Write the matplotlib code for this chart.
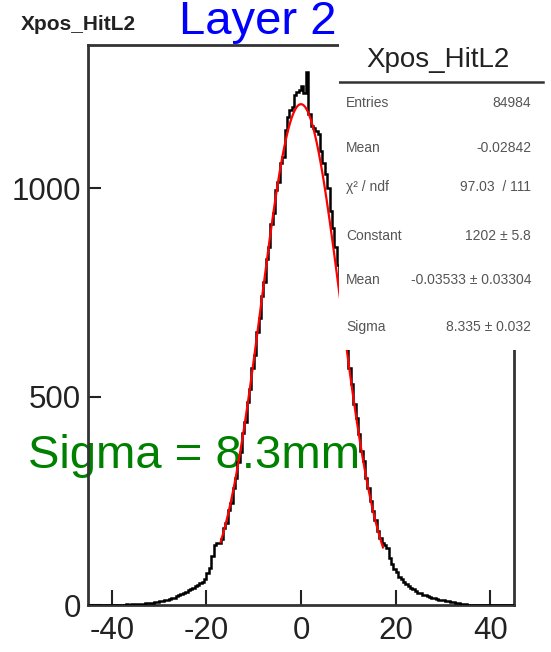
#!/usr/bin/env python3
"""Xpos_HitL2 hit position histogram (layer 2) with a gaussian fit."""

import matplotlib

matplotlib.use("Agg")
import matplotlib.pyplot as plt
import numpy as np

plt.rcParams["font.family"] = ["Liberation Sans", "DejaVu Sans"]
plt.rcParams["axes.unicode_minus"] = False

# histogram: 0.5 mm bins from -45 to 45, contents
bin_edges = np.linspace(-45, 45, 181)
counts = (
    # -45 .. -20
    [0, 0, 0, 0, 0, 0, 0, 1, 0, 0,
     1, 0, 1, 1, 1, 1, 2, 1, 2, 2,
     2, 2, 3, 3, 4, 4, 5, 6, 7, 8,
     9, 10, 11, 13, 14, 16, 18, 21, 24, 26,
     28, 31, 35, 39, 42, 45, 49, 52, 56, 62]
    # -20 .. -17
    + [76, 90, 118, 144, 148, 150]
    # -17 .. 0
    + [158, 184, 198, 228, 246, 282, 304, 344, 368, 412,
       440, 488, 518, 570, 600, 655, 688, 742, 775, 830,
       860, 915, 940, 995, 1015, 1062, 1075, 1140, 1170, 1188,
       1196, 1225, 1232, 1236]
    # 0 .. 17
    + [1245, 1228, 1280, 1178, 1150, 1145, 1138, 1130, 1090, 1060,
       1035, 1000, 945, 905, 860, 815, 760, 720, 668, 620,
       570, 530, 482, 448, 410, 370, 345, 306, 280, 250,
       226, 204, 178, 162]
    # 17 .. 35
    + [150, 144, 136, 112, 98, 86, 80, 68, 62, 56,
       50, 46, 42, 38, 34, 30, 28, 25, 23, 21,
       19, 17, 16, 14, 13, 12, 11, 10, 10, 8,
       7, 5, 4, 3, 2, 2]
    # 35 .. 45
    + [1, 1, 1, 1, 0, 1, 0, 0, 0, 0,
       0, 1, 0, 0, 0, 0, 0, 0, 0, 0]
)

# fit result shown in the stats box
fit_constant = 1202
fit_mean = -0.03533
fit_sigma = 8.335
fit_range = (-17.0, 17.3)

stats_labels = ["Entries", "Mean", "χ² / ndf", "Constant", "Mean", "Sigma"]
stats_values = ["84984", "-0.02842", "97.03  / 111", "1202 ± 5.8",
                "-0.03533 ± 0.03304", "8.335 ± 0.032"]

fig = plt.figure(figsize=(5.51, 6.52), dpi=100)
ax = fig.add_axes([0.160, 0.072, 0.773, 0.859])

ax.stairs(counts, bin_edges, color="black", lw=1.8, zorder=3)

xf = np.linspace(fit_range[0], fit_range[1], 300)
yf = fit_constant * np.exp(-0.5 * ((xf - fit_mean) / fit_sigma) ** 2)
ax.plot(xf, yf, color="red", lw=1.6, zorder=4)

ax.set_xlim(-45, 45)
ax.set_ylim(0, 1344)
ax.set_xticks([-40, -20, 0, 20, 40])
ax.set_yticks([0, 500, 1000])
ax.tick_params(axis="x", direction="in", length=11, width=1.5, pad=8,
               labelsize=22.5, colors="#222222")
ax.tick_params(axis="y", direction="in", length=9, width=1.5, pad=5,
               labelsize=22.5, colors="#222222")
for sp in ax.spines.values():
    sp.set_linewidth(2.0)
    sp.set_color("#333333")

ax.text(28 / 551, 1 - 468 / 652, "Sigma = 8.3mm", transform=fig.transFigure,
        color="green", fontsize=34, ha="left", va="baseline", zorder=1,
        clip_on=False)

fig.text(21 / 551, 1 - 25 / 652, "Xpos_HitL2", fontsize=15, fontweight="bold",
         ha="left", va="center", color="#222222")
fig.text(179 / 551, 1 - 33.5 / 652, "Layer 2", fontsize=34, color="blue",
         ha="left", va="baseline")

# stats box
box = fig.add_axes([339 / 551, 1 - 350 / 652, 212 / 551, 310 / 652])
box.set_zorder(5)
box.set_facecolor("white")
box.set_xlim(0, 1)
box.set_ylim(0, 1)
box.set_xticks([])
box.set_yticks([])
for sp in box.spines.values():
    sp.set_visible(False)

box.text(0.465, 0.937, "Xpos_HitL2", fontsize=20, ha="center", va="center",
         color="#222222")
box.plot([0.0, 0.962], [0.8645, 0.8645], color="#333333", lw=1.8)
row_y = [0.796, 0.651, 0.526, 0.368, 0.226, 0.075]
for label, value, y in zip(stats_labels, stats_values, row_y):
    box.text(0.033, y, label, fontsize=10, ha="left", va="center", color="#555555")
    box.text(0.906, y, value, fontsize=10, ha="right", va="center", color="#555555")

fig.savefig("out.png", dpi=100)
plt.close(fig)
